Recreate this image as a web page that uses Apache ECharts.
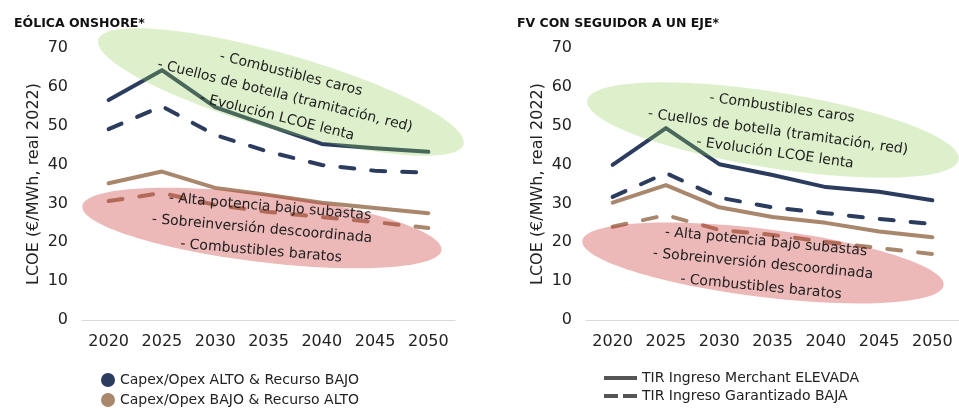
<!DOCTYPE html>
<html>
<head>
<meta charset="utf-8">
<script src="https://cdn.jsdelivr.net/npm/echarts@6/dist/echarts.min.js"></script>
<style>
  html, body { margin: 0; padding: 0; background: #fff; }
  #chart { width: 959px; height: 408px; }
</style>
</head>
<body>
<div id="chart"></div>
<script>
const years = ["2020", "2025", "2030", "2035", "2040", "2045", "2050"];

// EÓLICA ONSHORE
const eolAltoMerchant = [56.6, 64.3, 54.8, 50.0, 45.3, 44.2, 43.3];
const eolAltoGarant = [49.1, 55.0, 47.6, 43.3, 39.9, 38.4, 37.9];
const eolBajoMerchant = [35.2, 38.2, 34.0, 32.2, 30.2, 28.8, 27.5];
const eolBajoGarant = [30.6, 32.7, 29.6, 27.8, 26.5, 25.2, 23.7];

// FV CON SEGUIDOR A UN EJE
const fvAltoMerchant = [39.9, 49.4, 40.1, 37.3, 34.2, 33.0, 30.8];
const fvAltoGarant = [31.7, 37.8, 31.5, 29.0, 27.5, 26.0, 24.7];
const fvBajoMerchant = [30.2, 34.7, 29.0, 26.5, 25.0, 22.8, 21.3];
const fvBajoGarant = [24.0, 27.0, 23.2, 21.9, 20.1, 18.5, 17.0];

const yMin = 0, yMax = 70, yStep = 10;

const textoAlto = ["- Combustibles caros", "- Cuellos de botella (tramitación, red)", "- Evolución LCOE lenta"];
const textoBajo = ["- Alta potencia bajo subastas", "- Sobreinversión descoordinada", "- Combustibles baratos"];

const legendAlto = "Capex/Opex ALTO & Recurso BAJO";
const legendBajo = "Capex/Opex BAJO & Recurso ALTO";
const legendMerchant = "TIR Ingreso Merchant ELEVADA";
const legendGarant = "TIR Ingreso Garantizado BAJA";

const blue = "#2b3c5f";
const tan = "#a8876c";
const green = "rgba(142,205,82,0.3)";
const pink = "rgba(204,51,51,0.35)";
const font = "DejaVu Sans";
const dash = [14, 17];

const xAxisCommon = {
  type: "category",
  data: years,
  axisLine: { lineStyle: { color: "#d9d9d9", width: 1 } },
  axisTick: { show: false },
  axisLabel: { color: "#222", fontSize: 16, fontFamily: font, margin: 14 },
};
const yAxisCommon = {
  type: "value",
  min: yMin,
  max: yMax,
  interval: yStep,
  name: "LCOE (€/MWh, real 2022)",
  nameLocation: "middle",
  nameGap: 40,
  nameTextStyle: { color: "#222", fontSize: 16, fontFamily: font },
  axisLine: { show: false },
  axisTick: { show: false },
  splitLine: { show: false },
  axisLabel: { color: "#222", fontSize: 16, fontFamily: font, margin: 14 },
};

const lineSeries = (data, color, dashed, idx) => ({
  type: "line",
  data: data,
  xAxisIndex: idx,
  yAxisIndex: idx,
  symbol: "none",
  silent: true,
  lineStyle: { color: color, width: 4, type: dashed ? dash : "solid", cap: "round", join: "round" },
  z: 2,
});

// elipses y textos girados (anotaciones)
const ellipse = (cx, cy, rx, ry, deg, fill) => ({
  type: "ellipse",
  x: cx,
  y: cy,
  rotation: (-deg * Math.PI) / 180,
  shape: { cx: 0, cy: 0, rx: rx, ry: ry },
  style: { fill: fill },
  z: 10,
  silent: true,
});
const label = (txt, x, y, deg) => ({
  type: "text",
  x: x,
  y: y,
  rotation: (-deg * Math.PI) / 180,
  style: { text: txt, fill: "#222", font: "14px " + font, align: "center", verticalAlign: "middle" },
  z: 11,
  silent: true,
});

const chart = echarts.init(document.getElementById("chart"));
chart.setOption({
  animation: false,
  title: [
    { text: "EÓLICA ONSHORE*", left: 9, top: 12, textStyle: { fontSize: 12.5, fontWeight: "bold", fontFamily: font, color: "#111" } },
    { text: "FV CON SEGUIDOR A UN EJE*", left: 512, top: 12, textStyle: { fontSize: 12.5, fontWeight: "bold", fontFamily: font, color: "#111" } },
  ],
  grid: [
    { left: 82, right: 504, top: 48, bottom: 88 },
    { left: 586, right: 0, top: 48, bottom: 88 },
  ],
  xAxis: [
    { ...xAxisCommon, gridIndex: 0 },
    { ...xAxisCommon, gridIndex: 1 },
  ],
  yAxis: [
    { ...yAxisCommon, gridIndex: 0 },
    { ...yAxisCommon, gridIndex: 1 },
  ],
  legend: [
    {
      orient: "vertical",
      left: 101,
      top: 373,
      padding: 0,
      itemGap: 6,
      itemWidth: 14,
      itemHeight: 14,
      icon: "circle",
      selectedMode: false,
      textStyle: { color: "#222", fontSize: 14, fontFamily: font },
      data: [legendAlto, legendBajo],
    },
    {
      orient: "vertical",
      left: 604,
      top: 371,
      padding: 0,
      itemGap: 4,
      itemWidth: 33,
      itemHeight: 4,
      selectedMode: false,
      textStyle: { color: "#222", fontSize: 14, fontFamily: font },
      data: [
        { name: legendMerchant, icon: "path://M0,0H33V4H0Z", itemStyle: { color: "#555" } },
        { name: legendGarant, icon: "path://M0,0H14V4H0Z M19,0H33V4H19Z", itemStyle: { color: "#555" } },
      ],
    },
  ],
  series: [
    lineSeries(eolAltoMerchant, blue, false, 0),
    lineSeries(eolAltoGarant, blue, true, 0),
    lineSeries(eolBajoMerchant, tan, false, 0),
    lineSeries(eolBajoGarant, tan, true, 0),
    lineSeries(fvAltoMerchant, blue, false, 1),
    lineSeries(fvAltoGarant, blue, true, 1),
    lineSeries(fvBajoMerchant, tan, false, 1),
    lineSeries(fvBajoGarant, tan, true, 1),
    // series vacías, solo para la leyenda
    { type: "line", name: legendAlto, data: [], symbol: "none", itemStyle: { color: blue }, lineStyle: { color: blue } },
    { type: "line", name: legendBajo, data: [], symbol: "none", itemStyle: { color: tan }, lineStyle: { color: tan } },
    { type: "line", name: legendMerchant, data: [], symbol: "none", itemStyle: { color: "#555" }, lineStyle: { color: "#555", width: 4 } },
    { type: "line", name: legendGarant, data: [], symbol: "none", itemStyle: { color: "#555" }, lineStyle: { color: "#555", width: 4, type: [14, 5] } },
  ],
  graphic: [
    ellipse(281, 92, 190, 38, 16, green),
    ellipse(262, 228, 181, 34, 7, pink),
    ellipse(773, 130, 188, 38, 9, green),
    ellipse(763, 263, 182, 34, 7, pink),
    label(textoAlto[0], 291, 74, 14),
    label(textoAlto[1], 285, 96, 14),
    label(textoAlto[2], 277, 117, 14),
    label(textoBajo[0], 270, 207, 5),
    label(textoBajo[1], 262, 229, 5),
    label(textoBajo[2], 261, 251, 5),
    label(textoAlto[0], 782, 108, 8),
    label(textoAlto[1], 778, 132, 8),
    label(textoAlto[2], 775, 153, 8),
    label(textoBajo[0], 766, 242, 5.5),
    label(textoBajo[1], 763, 264, 5.5),
    label(textoBajo[2], 761, 287, 5.5),
  ],
});
</script>
</body>
</html>
